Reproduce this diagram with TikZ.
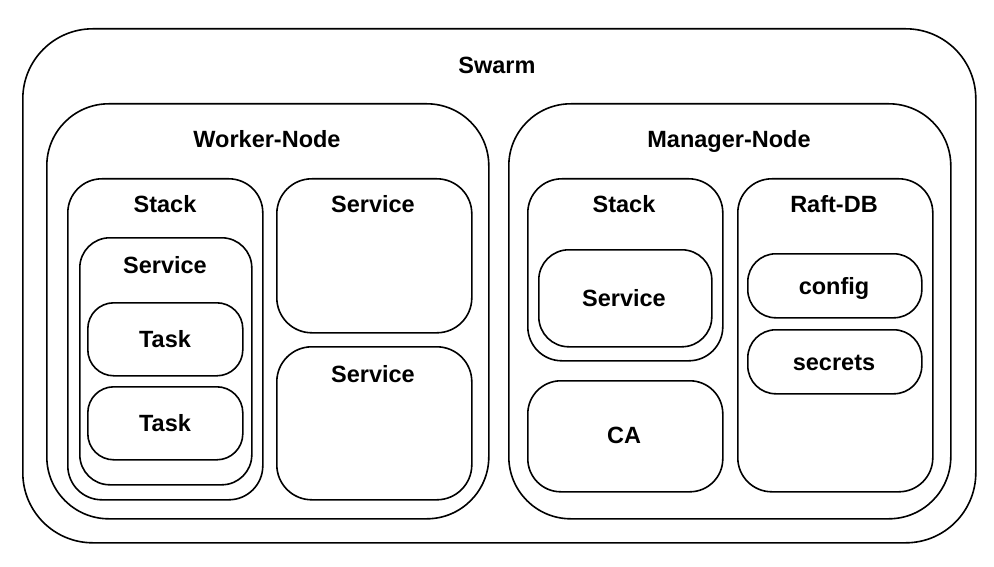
\documentclass[tikz,border=0pt]{standalone}
\usepackage{fontspec}
\setmainfont{Liberation Sans}
\usepackage{tikz}

\begin{document}
\begin{tikzpicture}[
   x=1pt,y=-1pt,
   box/.style={draw,line width=1.6pt,inner sep=0pt,anchor=north west},
   lbl/.style={font=\bfseries\fontsize{23.5}{28}\selectfont,anchor=base,inner sep=0pt}]
\useasboundingbox (0,0) rectangle (994,567);
% outer frames
\node[box,rounded corners=70pt,minimum width=953pt,minimum height=514pt] (swarm) at (22,28) {};
\node[box,rounded corners=62pt,minimum width=442pt,minimum height=415pt] (worker) at (46,103) {};
\node[box,rounded corners=62pt,minimum width=442pt,minimum height=415pt] (manager) at (508,103) {};
% worker side
\node[box,rounded corners=34pt,minimum width=195pt,minimum height=321pt] (wstack) at (67,178) {};
\node[box,rounded corners=30pt,minimum width=172pt,minimum height=247pt] (wservice) at (79,237) {};
\node[box,rounded corners=26pt,minimum width=155pt,minimum height=73pt] (task1) at (87,302) {};
\node[box,rounded corners=26pt,minimum width=155pt,minimum height=73pt] (task2) at (87,386) {};
\node[box,rounded corners=35pt,minimum width=195pt,minimum height=154pt] (svcA) at (276,178) {};
\node[box,rounded corners=35pt,minimum width=195pt,minimum height=153pt] (svcB) at (276,346) {};
% manager side
\node[box,rounded corners=34pt,minimum width=195pt,minimum height=182pt] (mstack) at (527,178) {};
\node[box,rounded corners=30pt,minimum width=173pt,minimum height=97pt] (msvc) at (538,249) {};
\node[box,rounded corners=33pt,minimum width=195pt,minimum height=111pt] (ca) at (527,380) {};
\node[box,rounded corners=34pt,minimum width=195pt,minimum height=313pt] (raft) at (737,178) {};
\node[box,rounded corners=28pt,minimum width=174pt,minimum height=64pt] (config) at (747,253) {};
\node[box,rounded corners=28pt,minimum width=174pt,minimum height=64pt] (secrets) at (747,329) {};
% texts
\node[lbl] (tswarm) at (497,74) {Swarm};
\node[lbl] (tworker) at (267,148) {Worker-Node};
\node[lbl] (tmanager) at (729,148) {Manager-Node};
\node[lbl] (twstack) at (165,213) {Stack};
\node[lbl] (twservice) at (165,273) {Service};
\node[lbl] (ttask1) at (165,347) {Task};
\node[lbl] (ttask2) at (165,431) {Task};
\node[lbl] (tsvcA) at (373,213) {Service};
\node[lbl] (tsvcB) at (373,382) {Service};
\node[lbl] (tmstack) at (624,213) {Stack};
\node[lbl] (tmsvc) at (624,306) {Service};
\node[lbl] (tca) at (624,443) {CA};
\node[lbl] (traft) at (834,213) {Raft-DB};
\node[lbl] (tconfig) at (834,294) {config};
\node[lbl] (tsecrets) at (834,370) {secrets};
\end{tikzpicture}
\end{document}
